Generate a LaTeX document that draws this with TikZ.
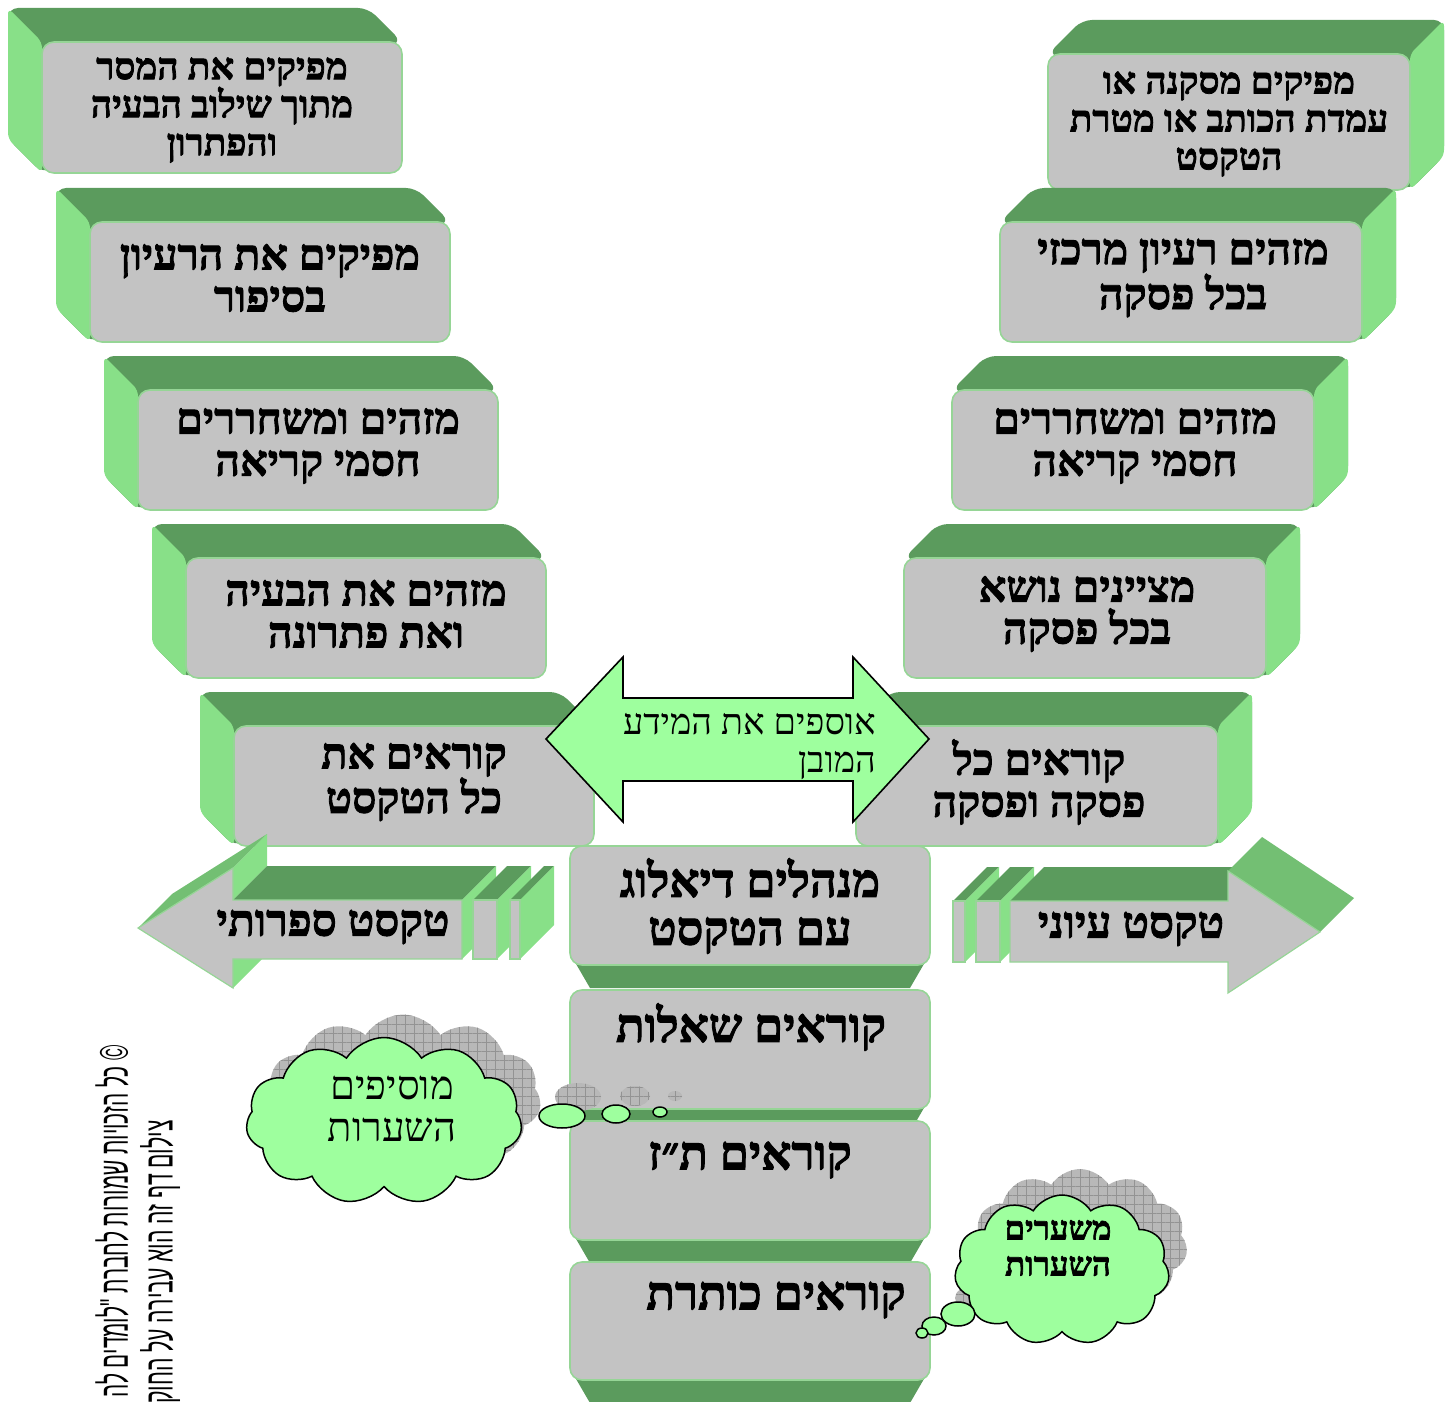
\documentclass[tikz,border=0pt]{standalone}
\usepackage{fontspec}
\usepackage{graphicx}
\usetikzlibrary{shapes.symbols,patterns.meta}
\TeXXeTstate=1
\newfontfamily\hebs[Script=Hebrew]{Liberation Serif}
\newfontfamily\hebheavy[Script=Hebrew, FakeBold=2]{Liberation Serif}
\newfontfamily\hebsans[Script=Hebrew]{Liberation Sans}
\newcommand{\heb}[1]{\beginR #1\endR}
\definecolor{boxgray}{HTML}{C3C3C3}
\definecolor{edgegreen}{HTML}{96D596}
\definecolor{topgreen}{HTML}{5B9B5D}
\definecolor{sidegreen}{HTML}{88E088}
\definecolor{midgreen}{HTML}{73BF73}
\definecolor{palegreen}{HTML}{9EFF9E}
\definecolor{shadowgray}{HTML}{B8B8B8}
\tikzset{
  frontface/.style={fill=boxgray, draw=edgegreen, line width=1.6pt, rounded corners=12pt},
  arrowfront/.style={fill=boxgray, draw=edgegreen, line width=1.2pt, line join=miter},
  boxtext/.style={font=\hebheavy\bfseries\fontsize{43}{42}\selectfont, align=center, text=black, inner sep=0pt},
  smalltext/.style={font=\hebheavy\bfseries\fontsize{37}{38}\selectfont, align=center, text=black, inner sep=0pt},
  centertext/.style={font=\hebheavy\bfseries\fontsize{47}{48}\selectfont, align=center, text=black, inner sep=0pt},
  arrowtext/.style={font=\hebheavy\bfseries\fontsize{44}{48}\selectfont, text=black, inner sep=0pt},
  plaintext/.style={font=\hebs\fontsize{36}{38}\selectfont, text=black, inner sep=0pt},
  cloudshape/.style={cloud, cloud puffs=11, cloud puff arc=115, cloud ignores aspect, inner sep=0pt},
  cloudfront/.style={cloudshape, draw=black, line width=1.5pt, fill=palegreen},
  cloudshadow/.style={cloudshape, fill=shadowgray, postaction={pattern={Hatch[angle=0,distance=9pt,line width=0.5pt]}, pattern color=gray!85}},
  bubble/.style={draw=black, line width=1.5pt, fill=palegreen},
  bubbleshadow/.style={fill=shadowgray, postaction={pattern={Hatch[angle=0,distance=9pt,line width=0.5pt]}, pattern color=gray!85}},
  copytext/.style={font=\hebsans\fontsize{40}{40}\selectfont, text=black, inner sep=0pt, rotate=90, anchor=east}
}
% left column box: x1 y1 x2 y2 (front face), depth towards upper left
\newcommand{\LeftBox}[4]{%
  \fill[topgreen, rounded corners=10pt] (#1,#4) -- (#1-34,#4-34) -- (#1-34,#2-34) -- (#3-34,#2-34) -- (#3,#2) -- cycle;
  \fill[sidegreen, rounded corners=6pt] (#1,#2) -- (#1-34,#2-34) -- (#1-34,#4-34) -- (#1,#4) -- cycle;
  \draw[frontface] (#1,#2) rectangle (#3,#4);
}
% right column box: depth towards upper right
\newcommand{\RightBox}[4]{%
  \fill[topgreen, rounded corners=10pt] (#3,#4) -- (#3+34,#4-34) -- (#3+34,#2-34) -- (#1+34,#2-34) -- (#1,#2) -- cycle;
  \fill[sidegreen, rounded corners=6pt] (#3,#2) -- (#3+34,#2-34) -- (#3+34,#4-34) -- (#3,#4) -- cycle;
  \draw[frontface] (#1,#2) rectangle (#3,#4);
}
% slab of the flat arrows
\newcommand{\Slab}[4]{%
  \fill[topgreen] (#1,#2) -- (#1+34,#2-34) -- (#3+34,#2-34) -- (#3,#2) -- cycle;
  \fill[sidegreen] (#3,#2) -- (#3+34,#2-34) -- (#3+34,#4-34) -- (#3,#4) -- cycle;
  \draw[arrowfront] (#1,#2) rectangle (#3,#4);
}
% centre column box: y1 y2
\newcommand{\CBox}[2]{%
  \fill[topgreen] (572,#2-8) -- (928,#2-8) -- (910,#2+23) -- (590,#2+23) -- cycle;
  \draw[frontface] (570,#1) rectangle (930,#2);
}
\begin{document}
\begin{tikzpicture}[x=1pt,y=-1pt]
\useasboundingbox (0,0) rectangle (1449,1402);
\clip (0,0) rectangle (1449,1402);

% left column
\LeftBox{42}{42}{402}{173}
\LeftBox{90}{222}{450}{342}
\LeftBox{138}{390}{498}{510}
\LeftBox{186}{558}{546}{678}
\LeftBox{234}{726}{594}{846}
\node[smalltext] (l1) at (222,110) {\heb{מפיקים את המסר}\\\heb{מתוך שילוב הבעיה}\\\heb{והפתרון}};
\node[boxtext] (l2) at (270,278) {\heb{מפיקים את הרעיון}\\\heb{בסיפור}};
\node[boxtext] (l3) at (318,446) {\heb{מזהים ומשחררים}\\\heb{חסמי קריאה}};
\node[boxtext] (l4) at (366,614) {\heb{מזהים את הבעיה}\\\heb{ואת פתרונה}};
\node[boxtext] (l5) at (414,782) {\heb{קוראים את}\\\heb{כל הטקסט}};

% right column
\RightBox{1048}{54}{1410}{190}
\RightBox{1000}{222}{1362}{342}
\RightBox{952}{390}{1314}{510}
\RightBox{904}{558}{1266}{678}
\RightBox{856}{726}{1218}{846}
\node[smalltext] (r1) at (1229,124) {\heb{מפיקים מסקנה או}\\\heb{עמדת הכותב או מטרת}\\\heb{הטקסט}};
\node[boxtext] (r2) at (1183,278) {\heb{מזהים רעיון מרכזי}\\\heb{בכל פסקה}};
\node[boxtext] (r3) at (1135,446) {\heb{מזהים ומשחררים}\\\heb{חסמי קריאה}};
\node[boxtext] (r4) at (1087,614) {\heb{מציינים נושא}\\\heb{בכל פסקה}};
\node[boxtext] (r5) at (1039,782) {\heb{קוראים כל}\\\heb{פסקה ופסקה}};

% double arrow
\draw[fill=palegreen, line width=1.6pt, line join=miter] (546,739) -- (623,657) -- (623,698) -- (853,698) -- (853,657) -- (929,739) -- (853,822) -- (853,781) -- (623,781) -- (623,822) -- cycle;
\node[plaintext, anchor=east, align=right] (info) at (876,746) {\heb{אוספים את המידע}\\\heb{המובן}};

% left flat arrow
\fill[midgreen] (138,928) -- (233,868) -- (267,834) -- (172,894) -- cycle;
\fill[sidegreen] (233,868) -- (233,900) -- (267,866) -- (267,834) -- cycle;
\fill[topgreen] (233,900) -- (462,900) -- (496,866) -- (267,866) -- cycle;
\fill[sidegreen] (233,959) -- (233,988) -- (267,954) -- (267,925) -- cycle;
\fill[sidegreen] (462,900) -- (496,866) -- (496,925) -- (462,959) -- cycle;
\draw[arrowfront] (138,928) -- (233,868) -- (233,900) -- (462,900) -- (462,959) -- (233,959) -- (233,988) -- cycle;
\Slab{473}{900}{497}{959}
\Slab{510}{900}{520}{959}
\node[arrowtext] (lit) at (333,927) {\heb{טקסט ספרותי}};

% right flat arrow
\Slab{953}{901}{965}{962}
\Slab{976}{901}{1000}{962}
\fill[topgreen] (1010,901) -- (1044,867) -- (1262,867) -- (1228,901) -- cycle;
\fill[midgreen] (1228,871) -- (1262,837) -- (1354,898) -- (1320,932) -- cycle;
\draw[arrowfront] (1010,901) -- (1228,901) -- (1228,871) -- (1320,932) -- (1228,993) -- (1228,962) -- (1010,962) -- cycle;
\node[arrowtext] (inf) at (1131,929) {\heb{טקסט עיוני}};

% centre column
\CBox{846}{965}
\CBox{990}{1109}
\CBox{1121}{1240}
\CBox{1262}{1380}
\node[centertext] (c1) at (750,906) {\heb{מנהלים דיאלוג}\\\heb{עם הטקסט}};
\node[centertext] (c2) at (751,1027) {\heb{קוראים שאלות}};
\node[centertext] (c3) at (750,1160) {\heb{קוראים ת״ז}};
\node[centertext] (c4) at (776,1300) {\heb{קוראים כותרת}};

% cloud 1
\node[cloudshadow, minimum width=276pt, minimum height=167pt] (cl1s) at (403,1098) {};
\fill[bubbleshadow] (578,1097) ellipse [x radius=23pt, y radius=14pt];
\fill[bubbleshadow] (635,1096) ellipse [x radius=15pt, y radius=10pt];
\fill[bubbleshadow] (675,1096) ellipse [x radius=7pt, y radius=5pt];
\node[cloudfront, minimum width=276pt, minimum height=167pt] (cl1) at (384,1121) {};
\draw[bubble] (562,1116) ellipse [x radius=23pt, y radius=12pt];
\draw[bubble] (616,1114) ellipse [x radius=14pt, y radius=9pt];
\draw[bubble] (660,1112) ellipse [x radius=7pt, y radius=5pt];
\node[font=\hebs\fontsize{40}{42}\selectfont, align=center, inner sep=0pt] (cl1t) at (392,1109) {\heb{מוסיפים}\\\heb{השערות}};

% cloud 2
\node[cloudshadow, minimum width=215pt, minimum height=150pt] (cl2s) at (1080,1244) {};
\fill[bubbleshadow] (972,1298) ellipse [x radius=17pt, y radius=12pt];
\node[cloudfront, minimum width=215pt, minimum height=150pt] (cl2) at (1062,1270) {};
\draw[bubble] (958,1314) ellipse [x radius=17pt, y radius=12pt];
\draw[bubble] (934,1326) ellipse [x radius=12pt, y radius=9pt];
\draw[bubble] (922,1333) ellipse [x radius=6pt, y radius=5pt];
\node[font=\hebheavy\bfseries\fontsize{33}{36}\selectfont, align=center, inner sep=0pt] (cl2t) at (1058,1248) {\heb{משערים}\\\heb{השערות}};

% copyright
\node[copytext] (copy1) at (112,1045) {\scalebox{0.52}[1]{\heb{© כל הזכויות שמורות לחברת "לומדים לה}}};
\node[copytext] (copy2) at (160,1120) {\scalebox{0.53}[1]{\heb{צילום דף זה הוא עבירה על החוק}}};
\end{tikzpicture}
\end{document}
